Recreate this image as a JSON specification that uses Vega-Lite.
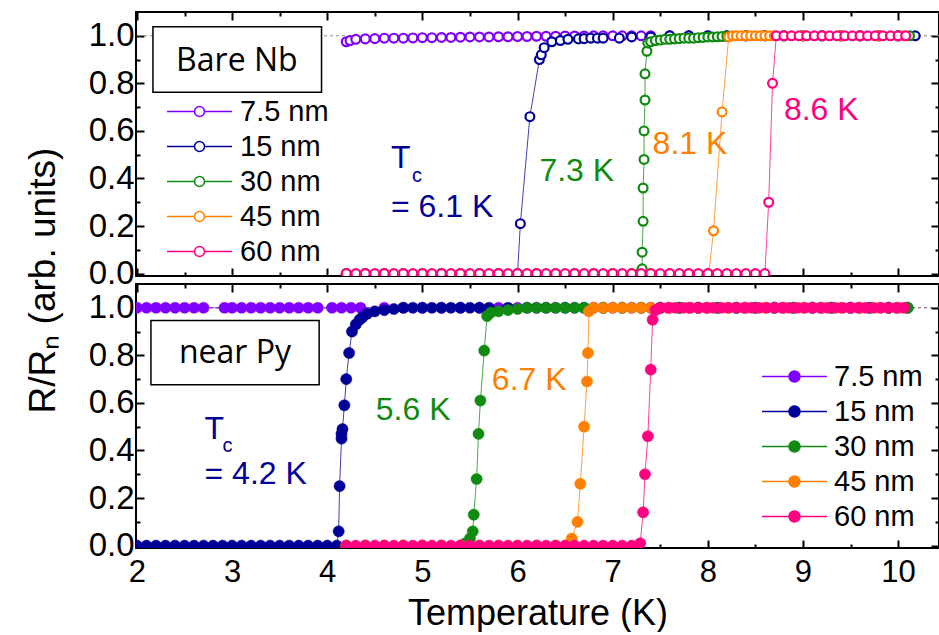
{
"$schema": "https://vega.github.io/schema/vega-lite/v6.json",
"background": "white",
"padding": {"left": 23, "top": 10, "right": 0, "bottom": 0},
"spacing": 8,
"bounds": "flush",
"datasets": {
"top": [
{"s":"7.5 nm","T":4.2,"R":0.975},{"s":"7.5 nm","T":4.24,"R":0.98},{"s":"7.5 nm","T":4.3,"R":0.985},{"s":"7.5 nm","T":4.4,"R":0.987},{"s":"7.5 nm","T":4.5,"R":0.988},{"s":"7.5 nm","T":4.6,"R":0.99},{"s":"7.5 nm","T":4.7,"R":0.99},{"s":"7.5 nm","T":4.8,"R":0.99},{"s":"7.5 nm","T":4.9,"R":0.991},{"s":"7.5 nm","T":5.0,"R":0.992},{"s":"7.5 nm","T":5.1,"R":0.992},{"s":"7.5 nm","T":5.2,"R":0.993},{"s":"7.5 nm","T":5.3,"R":0.993},{"s":"7.5 nm","T":5.4,"R":0.994},{"s":"7.5 nm","T":5.5,"R":0.995},{"s":"7.5 nm","T":5.6,"R":0.995},{"s":"7.5 nm","T":5.7,"R":0.995},{"s":"7.5 nm","T":5.8,"R":0.996},{"s":"7.5 nm","T":5.9,"R":0.996},{"s":"7.5 nm","T":6.0,"R":0.997},{"s":"7.5 nm","T":6.1,"R":0.997},{"s":"7.5 nm","T":6.2,"R":0.998},{"s":"7.5 nm","T":6.3,"R":0.998},{"s":"7.5 nm","T":6.4,"R":0.998},{"s":"7.5 nm","T":6.5,"R":0.999},{"s":"7.5 nm","T":6.6,"R":0.999},{"s":"7.5 nm","T":6.7,"R":0.999},{"s":"7.5 nm","T":6.8,"R":1},{"s":"7.5 nm","T":6.9,"R":1},{"s":"7.5 nm","T":7.0,"R":1},{"s":"7.5 nm","T":7.1,"R":1},{"s":"7.5 nm","T":7.2,"R":1},{"s":"7.5 nm","T":7.3,"R":1},{"s":"7.5 nm","T":7.4,"R":1},{"s":"7.5 nm","T":7.6,"R":1},{"s":"7.5 nm","T":7.8,"R":1},{"s":"7.5 nm","T":8.0,"R":1},{"s":"7.5 nm","T":8.2,"R":1},{"s":"7.5 nm","T":8.4,"R":1},{"s":"7.5 nm","T":8.6,"R":1},{"s":"7.5 nm","T":8.8,"R":1},{"s":"7.5 nm","T":9.0,"R":1},{"s":"7.5 nm","T":9.2,"R":1},{"s":"7.5 nm","T":9.4,"R":1},{"s":"7.5 nm","T":9.6,"R":1},{"s":"7.5 nm","T":9.8,"R":1},{"s":"7.5 nm","T":10.0,"R":1},
{"s":"15 nm","T":4.2,"R":0},{"s":"15 nm","T":4.4,"R":0},{"s":"15 nm","T":4.6,"R":0},{"s":"15 nm","T":4.8,"R":0},{"s":"15 nm","T":5.0,"R":0},{"s":"15 nm","T":5.2,"R":0},{"s":"15 nm","T":5.4,"R":0},{"s":"15 nm","T":5.6,"R":0},{"s":"15 nm","T":5.8,"R":0},{"s":"15 nm","T":6.0,"R":0},{"s":"15 nm","T":6.03,"R":0.21},{"s":"15 nm","T":6.13,"R":0.66},{"s":"15 nm","T":6.23,"R":0.9},{"s":"15 nm","T":6.25,"R":0.92},{"s":"15 nm","T":6.28,"R":0.95},{"s":"15 nm","T":6.36,"R":0.975},{"s":"15 nm","T":6.45,"R":0.98},{"s":"15 nm","T":6.53,"R":0.985},{"s":"15 nm","T":6.64,"R":0.987},{"s":"15 nm","T":6.7,"R":0.988},{"s":"15 nm","T":6.77,"R":0.99},{"s":"15 nm","T":6.84,"R":0.99},{"s":"15 nm","T":6.9,"R":0.99},{"s":"15 nm","T":7.07,"R":0.99},{"s":"15 nm","T":7.2,"R":0.995},{"s":"15 nm","T":7.4,"R":0.995},{"s":"15 nm","T":7.6,"R":1},{"s":"15 nm","T":7.8,"R":1},{"s":"15 nm","T":8.0,"R":1},{"s":"15 nm","T":8.2,"R":1},{"s":"15 nm","T":8.4,"R":1},{"s":"15 nm","T":8.6,"R":1},{"s":"15 nm","T":8.8,"R":1},{"s":"15 nm","T":9.0,"R":1},{"s":"15 nm","T":9.2,"R":1},{"s":"15 nm","T":9.4,"R":1},{"s":"15 nm","T":9.6,"R":1},{"s":"15 nm","T":9.8,"R":1},{"s":"15 nm","T":10.0,"R":1},{"s":"15 nm","T":10.18,"R":1},
{"s":"30 nm","T":4.2,"R":0},{"s":"30 nm","T":4.4,"R":0},{"s":"30 nm","T":4.6,"R":0},{"s":"30 nm","T":4.8,"R":0},{"s":"30 nm","T":5.0,"R":0},{"s":"30 nm","T":5.2,"R":0},{"s":"30 nm","T":5.4,"R":0},{"s":"30 nm","T":5.6,"R":0},{"s":"30 nm","T":5.8,"R":0},{"s":"30 nm","T":6.0,"R":0},{"s":"30 nm","T":6.2,"R":0},{"s":"30 nm","T":6.4,"R":0},{"s":"30 nm","T":6.6,"R":0},{"s":"30 nm","T":6.8,"R":0},{"s":"30 nm","T":7.0,"R":0},{"s":"30 nm","T":7.2,"R":0},{"s":"30 nm","T":7.28,"R":0},{"s":"30 nm","T":7.3,"R":0.005},{"s":"30 nm","T":7.31,"R":0.02},{"s":"30 nm","T":7.31,"R":0.09},{"s":"30 nm","T":7.32,"R":0.22},{"s":"30 nm","T":7.32,"R":0.36},{"s":"30 nm","T":7.33,"R":0.48},{"s":"30 nm","T":7.33,"R":0.6},{"s":"30 nm","T":7.34,"R":0.73},{"s":"30 nm","T":7.34,"R":0.84},{"s":"30 nm","T":7.36,"R":0.935},{"s":"30 nm","T":7.37,"R":0.97},{"s":"30 nm","T":7.4,"R":0.975},{"s":"30 nm","T":7.45,"R":0.98},{"s":"30 nm","T":7.5,"R":0.982},{"s":"30 nm","T":7.55,"R":0.985},{"s":"30 nm","T":7.6,"R":0.985},{"s":"30 nm","T":7.65,"R":0.987},{"s":"30 nm","T":7.7,"R":0.988},{"s":"30 nm","T":7.75,"R":0.99},{"s":"30 nm","T":7.8,"R":0.99},{"s":"30 nm","T":7.85,"R":0.99},{"s":"30 nm","T":7.9,"R":0.992},{"s":"30 nm","T":7.95,"R":0.993},{"s":"30 nm","T":8.0,"R":0.995},{"s":"30 nm","T":8.05,"R":0.995},{"s":"30 nm","T":8.1,"R":0.996},{"s":"30 nm","T":8.15,"R":0.997},{"s":"30 nm","T":8.2,"R":0.998},{"s":"30 nm","T":8.4,"R":1},{"s":"30 nm","T":8.6,"R":1},{"s":"30 nm","T":8.8,"R":1},{"s":"30 nm","T":9.0,"R":1},{"s":"30 nm","T":9.2,"R":1},{"s":"30 nm","T":9.4,"R":1},{"s":"30 nm","T":9.6,"R":1},{"s":"30 nm","T":9.8,"R":1},{"s":"30 nm","T":10.0,"R":1},{"s":"30 nm","T":10.12,"R":1},
{"s":"45 nm","T":4.2,"R":0},{"s":"45 nm","T":4.4,"R":0},{"s":"45 nm","T":4.6,"R":0},{"s":"45 nm","T":4.8,"R":0},{"s":"45 nm","T":5.0,"R":0},{"s":"45 nm","T":5.2,"R":0},{"s":"45 nm","T":5.4,"R":0},{"s":"45 nm","T":5.6,"R":0},{"s":"45 nm","T":5.8,"R":0},{"s":"45 nm","T":6.0,"R":0},{"s":"45 nm","T":6.2,"R":0},{"s":"45 nm","T":6.4,"R":0},{"s":"45 nm","T":6.6,"R":0},{"s":"45 nm","T":6.8,"R":0},{"s":"45 nm","T":7.0,"R":0},{"s":"45 nm","T":7.2,"R":0},{"s":"45 nm","T":7.4,"R":0},{"s":"45 nm","T":7.6,"R":0},{"s":"45 nm","T":7.8,"R":0},{"s":"45 nm","T":8.01,"R":0},{"s":"45 nm","T":8.06,"R":0.18},{"s":"45 nm","T":8.15,"R":0.68},{"s":"45 nm","T":8.22,"R":0.995},{"s":"45 nm","T":8.26,"R":1},{"s":"45 nm","T":8.3,"R":1},{"s":"45 nm","T":8.35,"R":1},{"s":"45 nm","T":8.4,"R":1},{"s":"45 nm","T":8.45,"R":1},{"s":"45 nm","T":8.5,"R":1},{"s":"45 nm","T":8.55,"R":1},{"s":"45 nm","T":8.6,"R":1},{"s":"45 nm","T":8.65,"R":1},{"s":"45 nm","T":8.7,"R":1},{"s":"45 nm","T":8.8,"R":1},{"s":"45 nm","T":9.0,"R":1},{"s":"45 nm","T":9.2,"R":1},{"s":"45 nm","T":9.4,"R":1},{"s":"45 nm","T":9.6,"R":1},{"s":"45 nm","T":9.8,"R":1},{"s":"45 nm","T":10.05,"R":1},
{"s":"60 nm","T":4.2,"R":0},{"s":"60 nm","T":4.3,"R":0},{"s":"60 nm","T":4.4,"R":0},{"s":"60 nm","T":4.5,"R":0},{"s":"60 nm","T":4.6,"R":0},{"s":"60 nm","T":4.7,"R":0},{"s":"60 nm","T":4.8,"R":0},{"s":"60 nm","T":4.9,"R":0},{"s":"60 nm","T":5.0,"R":0},{"s":"60 nm","T":5.1,"R":0},{"s":"60 nm","T":5.2,"R":0},{"s":"60 nm","T":5.3,"R":0},{"s":"60 nm","T":5.4,"R":0},{"s":"60 nm","T":5.5,"R":0},{"s":"60 nm","T":5.6,"R":0},{"s":"60 nm","T":5.7,"R":0},{"s":"60 nm","T":5.8,"R":0},{"s":"60 nm","T":5.9,"R":0},{"s":"60 nm","T":6.0,"R":0},{"s":"60 nm","T":6.1,"R":0},{"s":"60 nm","T":6.2,"R":0},{"s":"60 nm","T":6.3,"R":0},{"s":"60 nm","T":6.4,"R":0},{"s":"60 nm","T":6.5,"R":0},{"s":"60 nm","T":6.6,"R":0},{"s":"60 nm","T":6.7,"R":0},{"s":"60 nm","T":6.8,"R":0},{"s":"60 nm","T":6.9,"R":0},{"s":"60 nm","T":7.0,"R":0},{"s":"60 nm","T":7.1,"R":0},{"s":"60 nm","T":7.2,"R":0},{"s":"60 nm","T":7.3,"R":0},{"s":"60 nm","T":7.4,"R":0},{"s":"60 nm","T":7.5,"R":0},{"s":"60 nm","T":7.6,"R":0},{"s":"60 nm","T":7.7,"R":0},{"s":"60 nm","T":7.8,"R":0},{"s":"60 nm","T":7.9,"R":0},{"s":"60 nm","T":8.0,"R":0},{"s":"60 nm","T":8.1,"R":0},{"s":"60 nm","T":8.2,"R":0},{"s":"60 nm","T":8.3,"R":0},{"s":"60 nm","T":8.4,"R":0},{"s":"60 nm","T":8.5,"R":0},{"s":"60 nm","T":8.6,"R":0},{"s":"60 nm","T":8.64,"R":0.3},{"s":"60 nm","T":8.68,"R":0.8},{"s":"60 nm","T":8.72,"R":1},{"s":"60 nm","T":8.8,"R":1},{"s":"60 nm","T":8.88,"R":1},{"s":"60 nm","T":8.96,"R":1},{"s":"60 nm","T":9.04,"R":1},{"s":"60 nm","T":9.12,"R":1},{"s":"60 nm","T":9.2,"R":1},{"s":"60 nm","T":9.28,"R":1},{"s":"60 nm","T":9.36,"R":1},{"s":"60 nm","T":9.44,"R":1},{"s":"60 nm","T":9.52,"R":1},{"s":"60 nm","T":9.6,"R":1},{"s":"60 nm","T":9.68,"R":1},{"s":"60 nm","T":9.76,"R":1},{"s":"60 nm","T":9.84,"R":1},{"s":"60 nm","T":9.92,"R":1},{"s":"60 nm","T":10.0,"R":1},{"s":"60 nm","T":10.08,"R":1}
],
"bot": [
{"s":"7.5 nm","T":2.0,"R":1},{"s":"7.5 nm","T":2.1,"R":1},{"s":"7.5 nm","T":2.2,"R":1},{"s":"7.5 nm","T":2.3,"R":1},{"s":"7.5 nm","T":2.4,"R":1},{"s":"7.5 nm","T":2.5,"R":1},{"s":"7.5 nm","T":2.6,"R":1},{"s":"7.5 nm","T":2.7,"R":1},{"s":"7.5 nm","T":2.92,"R":1},{"s":"7.5 nm","T":3.0,"R":1},{"s":"7.5 nm","T":3.1,"R":1},{"s":"7.5 nm","T":3.2,"R":1},{"s":"7.5 nm","T":3.3,"R":1},{"s":"7.5 nm","T":3.4,"R":1},{"s":"7.5 nm","T":3.5,"R":1},{"s":"7.5 nm","T":3.6,"R":1},{"s":"7.5 nm","T":3.7,"R":1},{"s":"7.5 nm","T":3.8,"R":1},{"s":"7.5 nm","T":3.9,"R":1},{"s":"7.5 nm","T":4.05,"R":1},{"s":"7.5 nm","T":4.15,"R":1},{"s":"7.5 nm","T":4.25,"R":1},{"s":"7.5 nm","T":4.35,"R":1},{"s":"7.5 nm","T":4.6,"R":1},{"s":"7.5 nm","T":4.8,"R":1},{"s":"7.5 nm","T":5.0,"R":1},{"s":"7.5 nm","T":5.2,"R":1},{"s":"7.5 nm","T":5.4,"R":1},{"s":"7.5 nm","T":5.6,"R":1},{"s":"7.5 nm","T":5.8,"R":1},{"s":"7.5 nm","T":6.0,"R":1},{"s":"7.5 nm","T":6.2,"R":1},{"s":"7.5 nm","T":6.4,"R":1},{"s":"7.5 nm","T":6.6,"R":1},{"s":"7.5 nm","T":6.8,"R":1},{"s":"7.5 nm","T":7.0,"R":1},{"s":"7.5 nm","T":7.2,"R":1},{"s":"7.5 nm","T":7.4,"R":1},{"s":"7.5 nm","T":7.6,"R":1},{"s":"7.5 nm","T":7.8,"R":1},{"s":"7.5 nm","T":8.0,"R":1},{"s":"7.5 nm","T":8.4,"R":1},{"s":"7.5 nm","T":8.8,"R":1},{"s":"7.5 nm","T":9.2,"R":1},{"s":"7.5 nm","T":9.6,"R":1},{"s":"7.5 nm","T":10.0,"R":1},
{"s":"15 nm","T":2.0,"R":0},{"s":"15 nm","T":2.1,"R":0},{"s":"15 nm","T":2.2,"R":0},{"s":"15 nm","T":2.3,"R":0},{"s":"15 nm","T":2.4,"R":0},{"s":"15 nm","T":2.5,"R":0},{"s":"15 nm","T":2.6,"R":0},{"s":"15 nm","T":2.7,"R":0},{"s":"15 nm","T":2.8,"R":0},{"s":"15 nm","T":2.9,"R":0},{"s":"15 nm","T":3.0,"R":0},{"s":"15 nm","T":3.1,"R":0},{"s":"15 nm","T":3.2,"R":0},{"s":"15 nm","T":3.3,"R":0},{"s":"15 nm","T":3.4,"R":0},{"s":"15 nm","T":3.5,"R":0},{"s":"15 nm","T":3.6,"R":0},{"s":"15 nm","T":3.7,"R":0},{"s":"15 nm","T":3.8,"R":0},{"s":"15 nm","T":3.9,"R":0},{"s":"15 nm","T":4.0,"R":0},{"s":"15 nm","T":4.1,"R":0},{"s":"15 nm","T":4.12,"R":0.06},{"s":"15 nm","T":4.13,"R":0.25},{"s":"15 nm","T":4.15,"R":0.45},{"s":"15 nm","T":4.15,"R":0.47},{"s":"15 nm","T":4.16,"R":0.49},{"s":"15 nm","T":4.18,"R":0.59},{"s":"15 nm","T":4.2,"R":0.7},{"s":"15 nm","T":4.23,"R":0.81},{"s":"15 nm","T":4.26,"R":0.9},{"s":"15 nm","T":4.3,"R":0.93},{"s":"15 nm","T":4.34,"R":0.95},{"s":"15 nm","T":4.37,"R":0.96},{"s":"15 nm","T":4.42,"R":0.975},{"s":"15 nm","T":4.5,"R":0.985},{"s":"15 nm","T":4.6,"R":0.99},{"s":"15 nm","T":4.7,"R":0.995},{"s":"15 nm","T":4.8,"R":1},{"s":"15 nm","T":4.9,"R":1},{"s":"15 nm","T":5.0,"R":1},{"s":"15 nm","T":5.1,"R":1},{"s":"15 nm","T":5.2,"R":1},{"s":"15 nm","T":5.3,"R":1},{"s":"15 nm","T":5.4,"R":1},{"s":"15 nm","T":5.5,"R":1},{"s":"15 nm","T":5.6,"R":1},{"s":"15 nm","T":5.7,"R":1},{"s":"15 nm","T":5.9,"R":1},{"s":"15 nm","T":6.1,"R":1},{"s":"15 nm","T":6.3,"R":1},{"s":"15 nm","T":6.5,"R":1},{"s":"15 nm","T":6.7,"R":1},{"s":"15 nm","T":6.9,"R":1},{"s":"15 nm","T":7.1,"R":1},{"s":"15 nm","T":7.3,"R":1},{"s":"15 nm","T":7.5,"R":1},{"s":"15 nm","T":7.7,"R":1},{"s":"15 nm","T":7.9,"R":1},{"s":"15 nm","T":8.1,"R":1},{"s":"15 nm","T":8.3,"R":1},{"s":"15 nm","T":8.5,"R":1},{"s":"15 nm","T":8.7,"R":1},{"s":"15 nm","T":8.9,"R":1},{"s":"15 nm","T":9.1,"R":1},{"s":"15 nm","T":9.3,"R":1},{"s":"15 nm","T":9.5,"R":1},{"s":"15 nm","T":9.7,"R":1},{"s":"15 nm","T":9.9,"R":1},{"s":"15 nm","T":10.1,"R":1},
{"s":"30 nm","T":4.2,"R":0},{"s":"30 nm","T":4.4,"R":0},{"s":"30 nm","T":4.6,"R":0},{"s":"30 nm","T":4.8,"R":0},{"s":"30 nm","T":5.0,"R":0},{"s":"30 nm","T":5.2,"R":0},{"s":"30 nm","T":5.4,"R":0},{"s":"30 nm","T":5.45,"R":0.01},{"s":"30 nm","T":5.5,"R":0.03},{"s":"30 nm","T":5.53,"R":0.06},{"s":"30 nm","T":5.54,"R":0.13},{"s":"30 nm","T":5.57,"R":0.28},{"s":"30 nm","T":5.59,"R":0.47},{"s":"30 nm","T":5.61,"R":0.61},{"s":"30 nm","T":5.65,"R":0.82},{"s":"30 nm","T":5.68,"R":0.965},{"s":"30 nm","T":5.72,"R":0.98},{"s":"30 nm","T":5.8,"R":0.985},{"s":"30 nm","T":5.9,"R":0.99},{"s":"30 nm","T":6.0,"R":0.995},{"s":"30 nm","T":6.1,"R":1},{"s":"30 nm","T":6.2,"R":1},{"s":"30 nm","T":6.3,"R":1},{"s":"30 nm","T":6.4,"R":1},{"s":"30 nm","T":6.5,"R":1},{"s":"30 nm","T":6.6,"R":1},{"s":"30 nm","T":6.7,"R":1},{"s":"30 nm","T":6.9,"R":1},{"s":"30 nm","T":7.1,"R":1},{"s":"30 nm","T":7.3,"R":1},{"s":"30 nm","T":7.5,"R":1},{"s":"30 nm","T":7.7,"R":1},{"s":"30 nm","T":7.9,"R":1},{"s":"30 nm","T":8.1,"R":1},{"s":"30 nm","T":8.3,"R":1},{"s":"30 nm","T":8.5,"R":1},{"s":"30 nm","T":8.7,"R":1},{"s":"30 nm","T":8.9,"R":1},{"s":"30 nm","T":9.1,"R":1},{"s":"30 nm","T":9.3,"R":1},{"s":"30 nm","T":9.5,"R":1},{"s":"30 nm","T":9.7,"R":1},{"s":"30 nm","T":9.9,"R":1},{"s":"30 nm","T":10.1,"R":1},
{"s":"45 nm","T":4.2,"R":0},{"s":"45 nm","T":4.4,"R":0},{"s":"45 nm","T":4.6,"R":0},{"s":"45 nm","T":4.8,"R":0},{"s":"45 nm","T":5.0,"R":0},{"s":"45 nm","T":5.2,"R":0},{"s":"45 nm","T":5.4,"R":0},{"s":"45 nm","T":5.6,"R":0},{"s":"45 nm","T":5.8,"R":0},{"s":"45 nm","T":6.0,"R":0},{"s":"45 nm","T":6.2,"R":0},{"s":"45 nm","T":6.4,"R":0},{"s":"45 nm","T":6.5,"R":0},{"s":"45 nm","T":6.54,"R":0},{"s":"45 nm","T":6.57,"R":0.03},{"s":"45 nm","T":6.63,"R":0.1},{"s":"45 nm","T":6.66,"R":0.26},{"s":"45 nm","T":6.7,"R":0.5},{"s":"45 nm","T":6.73,"R":0.69},{"s":"45 nm","T":6.74,"R":0.81},{"s":"45 nm","T":6.75,"R":0.985},{"s":"45 nm","T":6.8,"R":1},{"s":"45 nm","T":6.9,"R":1},{"s":"45 nm","T":7.0,"R":1},{"s":"45 nm","T":7.1,"R":1},{"s":"45 nm","T":7.2,"R":1},{"s":"45 nm","T":7.3,"R":1},{"s":"45 nm","T":7.4,"R":1},{"s":"45 nm","T":7.6,"R":1},{"s":"45 nm","T":7.8,"R":1},{"s":"45 nm","T":8.0,"R":1},{"s":"45 nm","T":8.2,"R":1},{"s":"45 nm","T":8.4,"R":1},{"s":"45 nm","T":8.6,"R":1},{"s":"45 nm","T":8.8,"R":1},{"s":"45 nm","T":9.0,"R":1},{"s":"45 nm","T":9.2,"R":1},{"s":"45 nm","T":9.4,"R":1},{"s":"45 nm","T":9.6,"R":1},{"s":"45 nm","T":9.8,"R":1},{"s":"45 nm","T":10.0,"R":1},
{"s":"60 nm","T":4.2,"R":0},{"s":"60 nm","T":4.3,"R":0},{"s":"60 nm","T":4.4,"R":0},{"s":"60 nm","T":4.5,"R":0},{"s":"60 nm","T":4.6,"R":0},{"s":"60 nm","T":4.7,"R":0},{"s":"60 nm","T":4.8,"R":0},{"s":"60 nm","T":4.9,"R":0},{"s":"60 nm","T":5.0,"R":0},{"s":"60 nm","T":5.1,"R":0},{"s":"60 nm","T":5.2,"R":0},{"s":"60 nm","T":5.3,"R":0},{"s":"60 nm","T":5.4,"R":0},{"s":"60 nm","T":5.5,"R":0},{"s":"60 nm","T":5.6,"R":0},{"s":"60 nm","T":5.7,"R":0},{"s":"60 nm","T":5.8,"R":0},{"s":"60 nm","T":5.9,"R":0},{"s":"60 nm","T":6.0,"R":0},{"s":"60 nm","T":6.1,"R":0},{"s":"60 nm","T":6.2,"R":0},{"s":"60 nm","T":6.3,"R":0},{"s":"60 nm","T":6.4,"R":0},{"s":"60 nm","T":6.5,"R":0},{"s":"60 nm","T":6.6,"R":0},{"s":"60 nm","T":6.7,"R":0},{"s":"60 nm","T":6.8,"R":0},{"s":"60 nm","T":6.9,"R":0},{"s":"60 nm","T":7.0,"R":0},{"s":"60 nm","T":7.1,"R":0},{"s":"60 nm","T":7.2,"R":0},{"s":"60 nm","T":7.29,"R":0.01},{"s":"60 nm","T":7.32,"R":0.14},{"s":"60 nm","T":7.34,"R":0.3},{"s":"60 nm","T":7.37,"R":0.46},{"s":"60 nm","T":7.4,"R":0.74},{"s":"60 nm","T":7.42,"R":0.95},{"s":"60 nm","T":7.45,"R":0.99},{"s":"60 nm","T":7.5,"R":1},{"s":"60 nm","T":7.58,"R":1},{"s":"60 nm","T":7.66,"R":1},{"s":"60 nm","T":7.74,"R":1},{"s":"60 nm","T":7.82,"R":1},{"s":"60 nm","T":7.9,"R":1},{"s":"60 nm","T":7.98,"R":1},{"s":"60 nm","T":8.06,"R":1},{"s":"60 nm","T":8.14,"R":1},{"s":"60 nm","T":8.22,"R":1},{"s":"60 nm","T":8.3,"R":1},{"s":"60 nm","T":8.38,"R":1},{"s":"60 nm","T":8.46,"R":1},{"s":"60 nm","T":8.54,"R":1},{"s":"60 nm","T":8.62,"R":1},{"s":"60 nm","T":8.7,"R":1},{"s":"60 nm","T":8.78,"R":1},{"s":"60 nm","T":8.86,"R":1},{"s":"60 nm","T":8.94,"R":1},{"s":"60 nm","T":9.02,"R":1},{"s":"60 nm","T":9.1,"R":1},{"s":"60 nm","T":9.18,"R":1},{"s":"60 nm","T":9.26,"R":1},{"s":"60 nm","T":9.34,"R":1},{"s":"60 nm","T":9.42,"R":1},{"s":"60 nm","T":9.5,"R":1},{"s":"60 nm","T":9.58,"R":1},{"s":"60 nm","T":9.66,"R":1},{"s":"60 nm","T":9.74,"R":1},{"s":"60 nm","T":9.82,"R":1},{"s":"60 nm","T":9.9,"R":1},{"s":"60 nm","T":9.98,"R":1},{"s":"60 nm","T":10.06,"R":1}
],
"topAnn": [
{"s":"15 nm","T":4.67,"R":0.487,"t":"T","k":"b"},
{"s":"15 nm","T":4.89,"R":0.41,"t":"c","k":"s"},
{"s":"15 nm","T":4.67,"R":0.28,"t":"= 6.1 K","k":"b"},
{"s":"30 nm","T":6.23,"R":0.43,"t":"7.3 K","k":"b"},
{"s":"45 nm","T":7.42,"R":0.543,"t":"8.1 K","k":"b"},
{"s":"60 nm","T":8.8,"R":0.687,"t":"8.6 K","k":"b"}
],
"botAnn": [
{"s":"15 nm","T":2.71,"R":0.49,"t":"T","k":"b"},
{"s":"15 nm","T":2.9,"R":0.42,"t":"c","k":"s"},
{"s":"15 nm","T":2.71,"R":0.3,"t":"= 4.2 K","k":"b"},
{"s":"30 nm","T":4.51,"R":0.572,"t":"5.6 K","k":"b"},
{"s":"45 nm","T":5.73,"R":0.697,"t":"6.7 K","k":"b"}
],
"topBox": [{"T":2.168,"T2":3.94,"R":1.038,"R2":0.763,"t":"Bare Nb","Tc":3.05,"Rc":0.895}],
"botBox": [{"T":2.147,"T2":3.915,"R":0.947,"R2":0.676,"t":"near Py","Tc":3.03,"Rc":0.81}]
},
"resolve": {"scale": {"color": "independent", "stroke": "independent", "fill": "independent"}, "legend": {"color": "independent", "stroke": "independent", "fill": "independent"}},
"vconcat": [
{
"width": 803, "height": 264,
"resolve": {"axis": {"x": "independent", "y": "independent"}},
"layer": [
{"data": {"values": [{}]}, "mark": {"type": "rule", "strokeDash": [3, 3], "color": "#8a8a8a", "strokeWidth": 1},
 "encoding": {"y": {"datum": 1, "type": "quantitative", "scale": {"domain": [-0.01, 1.1], "nice": false, "zero": false}, "axis": null}}},
{"data": {"name": "topBox"}, "mark": {"type": "rect", "fill": "white", "stroke": "black", "strokeWidth": 1.5},
 "encoding": {"x": {"field": "T", "type": "quantitative", "scale": {"domain": [1.99, 10.43], "nice": false, "zero": false}, "axis": null}, "x2": {"field": "T2"},
  "y": {"field": "R", "type": "quantitative", "axis": null}, "y2": {"field": "R2"}}},
{"data": {"name": "topBox"}, "mark": {"type": "text", "font": "Open Sans", "fontSize": 32, "color": "black", "align": "center", "baseline": "middle"},
 "encoding": {"x": {"field": "Tc", "type": "quantitative", "axis": null}, "y": {"field": "Rc", "type": "quantitative", "axis": null}, "text": {"field": "t"}}},
{"data": {"name": "top"}, "mark": {"type": "line", "strokeWidth": 1, "opacity": 0.75, "clip": true},
 "encoding": {
  "x": {"field": "T", "type": "quantitative", "scale": {"domain": [1.99, 10.43], "nice": false, "zero": false},
   "axis": {"orient": "bottom", "values": [2,2.5,3,3.5,4,4.5,5,5.5,6,6.5,7,7.5,8,8.5,9,9.5,10], "labels": false, "title": null,
    "tickSize": {"condition": {"test": "datum.value % 1 === 0", "value": -8}, "value": -4}}},
  "y": {"field": "R", "type": "quantitative", "scale": {"domain": [-0.01, 1.1], "nice": false, "zero": false},
   "axis": {"orient": "left", "values": [0,0.1,0.2,0.3,0.4,0.5,0.6,0.7,0.8,0.9,1], "labelExpr": "round(datum.value*10) % 2 === 0 ? format(datum.value, '.1f') : ''",
    "labelFontSize": 33, "labelPadding": 10, "labelOverlap": false, "labelFlush": false,
    "tickSize": {"condition": {"test": "round(datum.value*10) % 2 === 0", "value": -8}, "value": -4},
    "title": "R/Rₙ (arb. units)", "titleFontSize": 37, "titleX": -74, "titleY": 268, "titleAngle": -90, "titleAlign": "center", "titleBaseline": "bottom"}},
  "color": {"field": "s", "type": "nominal", "scale": {"domain": ["7.5 nm","15 nm","30 nm","45 nm","60 nm","zz"], "range": ["#8000ff","#000099","#108a10","#ff8000","#ff0080","#000000"]}, "legend": null},
  "detail": {"field": "s"}
 }},
{"data": {"name": "top"}, "mark": {"type": "point", "filled": true, "fill": "white", "strokeWidth": 2.2, "size": 78, "opacity": 1, "clip": true},
 "encoding": {
  "x": {"field": "T", "type": "quantitative", "scale": {"domain": [1.99, 10.43], "nice": false, "zero": false},
   "axis": {"orient": "top", "values": [2,2.5,3,3.5,4,4.5,5,5.5,6,6.5,7,7.5,8,8.5,9,9.5,10], "labels": false, "title": null,
    "tickSize": {"condition": {"test": "datum.value % 1 === 0", "value": -8}, "value": -4}}},
  "y": {"field": "R", "type": "quantitative", "scale": {"domain": [-0.01, 1.1], "nice": false, "zero": false},
   "axis": {"orient": "right", "values": [0,0.1,0.2,0.3,0.4,0.5,0.6,0.7,0.8,0.9,1], "labels": false, "title": null,
    "tickSize": {"condition": {"test": "round(datum.value*10) % 2 === 0", "value": -8}, "value": -4}}},
  "stroke": {"field": "s", "type": "nominal", "scale": {"domain": ["7.5 nm","15 nm","30 nm","45 nm","60 nm"], "range": ["#8000ff","#000099","#108a10","#ff8000","#ff0080"]},
   "legend": {"orient": "none", "legendX": 49, "legendY": 85, "title": null, "padding": 0,
    "symbolType": "M-3.25,0H-0.5M0.5,0H3.25M-0.5,0A0.5,0.5,0,1,1,0.5,0A0.5,0.5,0,1,1,-0.5,0Z",
    "symbolSize": 400, "symbolStrokeWidth": 1.5, "symbolFillColor": "white", "symbolOffset": 0,
    "labelFontSize": 29, "labelFont": "Liberation Sans", "labelColor": "black", "labelOffset": 26, "rowPadding": 5}}
 }},
{"data": {"name": "topAnn"}, "transform": [{"filter": "datum.k === 'b'"}], "mark": {"type": "text", "fontSize": 32, "align": "left", "baseline": "middle"},
 "encoding": {"x": {"field": "T", "type": "quantitative", "axis": null}, "y": {"field": "R", "type": "quantitative", "axis": null}, "text": {"field": "t"},
  "color": {"field": "s", "type": "nominal", "legend": null}}},
{"data": {"name": "topAnn"}, "transform": [{"filter": "datum.k === 's'"}], "mark": {"type": "text", "fontSize": 20, "align": "left", "baseline": "middle"},
 "encoding": {"x": {"field": "T", "type": "quantitative", "axis": null}, "y": {"field": "R", "type": "quantitative", "axis": null}, "text": {"field": "t"},
  "color": {"field": "s", "type": "nominal", "legend": null}}}
]
},
{
"width": 803, "height": 264,
"resolve": {"axis": {"x": "independent", "y": "independent"}},
"layer": [
{"data": {"values": [{}]}, "mark": {"type": "rule", "strokeDash": [3, 3], "color": "#555555", "strokeWidth": 1},
 "encoding": {"y": {"datum": 1, "type": "quantitative", "scale": {"domain": [-0.01, 1.1], "nice": false, "zero": false}, "axis": null}}},
{"data": {"name": "botBox"}, "mark": {"type": "rect", "fill": "white", "stroke": "black", "strokeWidth": 1.5},
 "encoding": {"x": {"field": "T", "type": "quantitative", "scale": {"domain": [1.99, 10.43], "nice": false, "zero": false}, "axis": null}, "x2": {"field": "T2"},
  "y": {"field": "R", "type": "quantitative", "axis": null}, "y2": {"field": "R2"}}},
{"data": {"name": "botBox"}, "mark": {"type": "text", "font": "Open Sans", "fontSize": 32, "color": "black", "align": "center", "baseline": "middle"},
 "encoding": {"x": {"field": "Tc", "type": "quantitative", "axis": null}, "y": {"field": "Rc", "type": "quantitative", "axis": null}, "text": {"field": "t"}}},
{"data": {"name": "bot"}, "mark": {"type": "line", "strokeWidth": 1, "opacity": 0.75, "clip": true},
 "encoding": {
  "x": {"field": "T", "type": "quantitative", "scale": {"domain": [1.99, 10.43], "nice": false, "zero": false},
   "axis": {"orient": "bottom", "values": [2,2.5,3,3.5,4,4.5,5,5.5,6,6.5,7,7.5,8,8.5,9,9.5,10], "labelExpr": "datum.value % 1 === 0 ? format(datum.value, 'd') : ''",
    "labelFontSize": 31, "labelPadding": 17, "labelOverlap": false, "labelFlush": false,
    "tickSize": {"condition": {"test": "datum.value % 1 === 0", "value": -8}, "value": -4},
    "title": "Temperature (K)", "titleFontSize": 36, "titlePadding": 5}},
  "y": {"field": "R", "type": "quantitative", "scale": {"domain": [-0.01, 1.1], "nice": false, "zero": false},
   "axis": {"orient": "left", "values": [0,0.1,0.2,0.3,0.4,0.5,0.6,0.7,0.8,0.9,1], "labelExpr": "round(datum.value*10) % 2 === 0 ? format(datum.value, '.1f') : ''",
    "labelFontSize": 33, "labelPadding": 10, "labelOverlap": false, "labelFlush": false,
    "tickSize": {"condition": {"test": "round(datum.value*10) % 2 === 0", "value": -8}, "value": -4}, "title": null}},
  "color": {"field": "s", "type": "nominal", "scale": {"domain": ["7.5 nm","15 nm","30 nm","45 nm","60 nm","zz"], "range": ["#8000ff","#000099","#108a10","#ff8000","#ff0080","#000000"]}, "legend": null},
  "detail": {"field": "s"}
 }},
{"data": {"name": "bot"}, "mark": {"type": "point", "filled": true, "strokeWidth": 0.5, "size": 125, "opacity": 1, "clip": true},
 "encoding": {
  "x": {"field": "T", "type": "quantitative", "scale": {"domain": [1.99, 10.43], "nice": false, "zero": false},
   "axis": {"orient": "top", "values": [2,2.5,3,3.5,4,4.5,5,5.5,6,6.5,7,7.5,8,8.5,9,9.5,10], "labels": false, "title": null,
    "tickSize": {"condition": {"test": "datum.value % 1 === 0", "value": -8}, "value": -4}}},
  "y": {"field": "R", "type": "quantitative", "scale": {"domain": [-0.01, 1.1], "nice": false, "zero": false},
   "axis": {"orient": "right", "values": [0,0.1,0.2,0.3,0.4,0.5,0.6,0.7,0.8,0.9,1], "labels": false, "title": null,
    "tickSize": {"condition": {"test": "round(datum.value*10) % 2 === 0", "value": -8}, "value": -4}}},
  "fill": {"field": "s", "type": "nominal", "scale": {"domain": ["7.5 nm","15 nm","30 nm","45 nm","60 nm"], "range": ["#8000ff","#000099","#108a10","#ff8000","#ff0080"]},
   "legend": {"orient": "none", "legendX": 644, "legendY": 78, "title": null, "padding": 0,
    "symbolType": "M-3.25,0H-0.55M0.55,0H3.25M-0.55,0A0.55,0.55,0,1,1,0.55,0A0.55,0.55,0,1,1,-0.55,0Z",
    "symbolSize": 400, "symbolStrokeWidth": 1.5, "symbolOffset": 0,
    "labelFontSize": 29, "labelFont": "Liberation Sans", "labelColor": "black", "labelOffset": 25, "rowPadding": 5}},
  "stroke": {"field": "s", "type": "nominal", "scale": {"domain": ["7.5 nm","15 nm","30 nm","45 nm","60 nm"], "range": ["#8000ff","#000099","#108a10","#ff8000","#ff0080"]},
   "legend": {"orient": "none", "legendX": 644, "legendY": 78, "title": null, "padding": 0,
    "symbolType": "M-3.25,0H-0.55M0.55,0H3.25M-0.55,0A0.55,0.55,0,1,1,0.55,0A0.55,0.55,0,1,1,-0.55,0Z",
    "symbolSize": 400, "symbolStrokeWidth": 1.5, "symbolOffset": 0,
    "labelFontSize": 29, "labelFont": "Liberation Sans", "labelColor": "black", "labelOffset": 25, "rowPadding": 5}}
 }},
{"data": {"name": "botAnn"}, "transform": [{"filter": "datum.k === 'b'"}], "mark": {"type": "text", "fontSize": 32, "align": "left", "baseline": "middle"},
 "encoding": {"x": {"field": "T", "type": "quantitative", "axis": null}, "y": {"field": "R", "type": "quantitative", "axis": null}, "text": {"field": "t"},
  "color": {"field": "s", "type": "nominal", "legend": null}}},
{"data": {"name": "botAnn"}, "transform": [{"filter": "datum.k === 's'"}], "mark": {"type": "text", "fontSize": 20, "align": "left", "baseline": "middle"},
 "encoding": {"x": {"field": "T", "type": "quantitative", "axis": null}, "y": {"field": "R", "type": "quantitative", "axis": null}, "text": {"field": "t"},
  "color": {"field": "s", "type": "nominal", "legend": null}}}
]
}
],
"config": {
 "font": "Liberation Sans",
 "view": {"stroke": "black", "strokeWidth": 2},
 "text": {"font": "Liberation Sans"},
 "axis": {"domain": false, "grid": false, "ticks": true, "tickColor": "black", "tickWidth": 2, "labelColor": "black", "labelFont": "Liberation Sans", "titleFont": "Liberation Sans", "titleColor": "black", "titleFontWeight": "normal"}
}
}
